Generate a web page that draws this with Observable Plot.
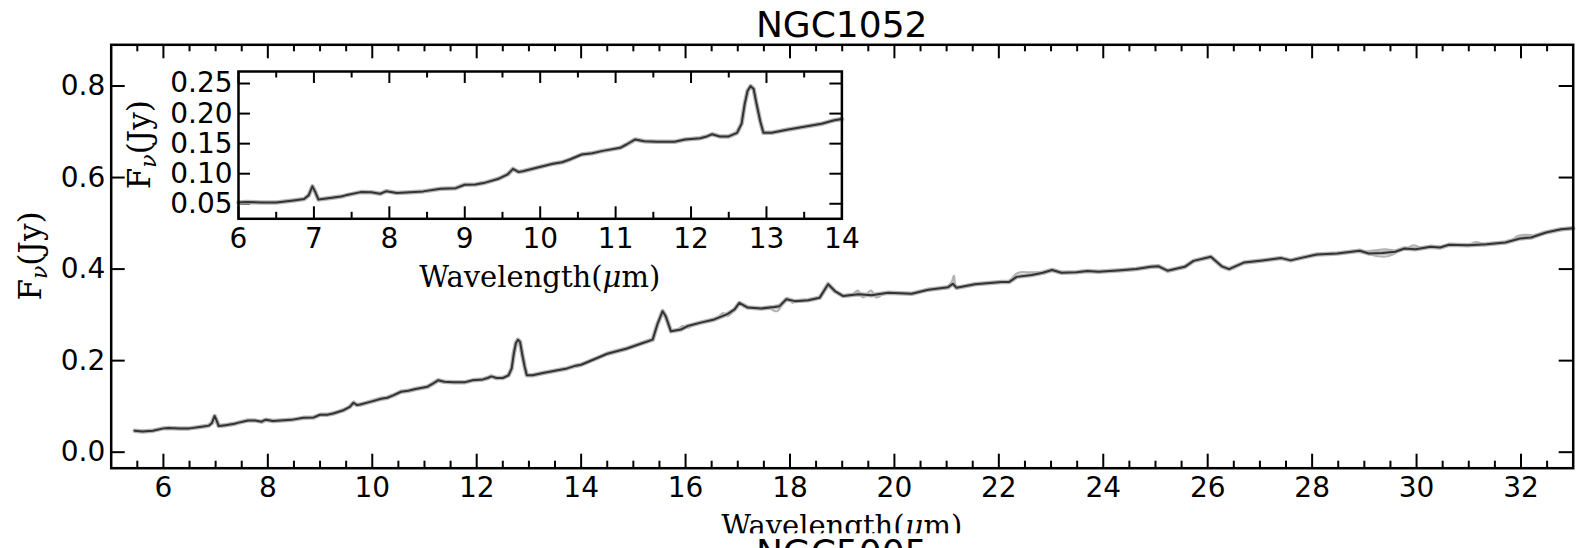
<!DOCTYPE html>
<html><head><meta charset="utf-8">
<script src="https://cdn.jsdelivr.net/npm/d3@7"></script>
<script src="https://cdn.jsdelivr.net/npm/@observablehq/plot@0.6"></script>
<style>
html,body{margin:0;padding:0;background:#fff;overflow:hidden;}
#wrap{position:relative;width:1585px;height:548px;overflow:hidden;background:#fff;}
#wrap svg{position:absolute;}
</style></head><body><div id="wrap"></div>
<script>
// ---- data ----
const wavelength = [5.45,5.6,5.8,6.0,6.1,6.3,6.5,6.73,6.87,6.93,6.98,7.02,7.06,7.19,7.36,7.42,7.62,7.76,7.88,7.96,8.1,8.45,8.68,8.88,9.0,9.14,9.25,9.45,9.57,9.64,9.71,9.77,9.94,10.17,10.29,10.4,10.55,10.69,10.83,11.06,11.15,11.26,11.38,11.55,11.78,11.92,12.12,12.21,12.28,12.38,12.5,12.61,12.67,12.71,12.75,12.79,12.83,12.87,12.92,12.96,13.07,13.27,13.5,13.73,13.9,14.0,14.24,14.5,14.88,15.14,15.37,15.46,15.56,15.62,15.72,15.91,16.04,16.29,16.55,16.81,16.94,17.03,17.19,17.45,17.7,17.8,17.93,18.09,18.35,18.57,18.67,18.73,18.86,19.02,19.31,19.56,19.88,20.33,20.65,21.03,21.12,21.19,21.54,22.05,22.2,22.34,22.63,22.84,23.02,23.2,23.49,23.7,23.91,24.34,24.63,24.91,25.06,25.23,25.56,25.73,26.06,26.27,26.41,26.7,27.05,27.41,27.59,27.77,28.09,28.48,28.91,29.09,29.34,29.59,29.77,29.98,30.27,30.45,30.62,30.98,31.34,31.7,31.98,32.19,32.48,32.77,33.0];
const flux = [0.047,0.045,0.047,0.052,0.053,0.052,0.052,0.0556,0.058,0.064,0.079,0.069,0.057,0.059,0.062,0.064,0.0694,0.069,0.0667,0.071,0.068,0.0706,0.075,0.076,0.0817,0.082,0.0844,0.0917,0.099,0.108,0.103,0.104,0.1094,0.1167,0.119,0.124,0.132,0.134,0.138,0.143,0.149,0.157,0.154,0.153,0.153,0.157,0.159,0.162,0.1656,0.162,0.162,0.168,0.183,0.215,0.238,0.2456,0.241,0.215,0.186,0.168,0.168,0.173,0.178,0.183,0.189,0.191,0.2025,0.215,0.2266,0.237,0.246,0.279,0.308,0.297,0.264,0.268,0.2755,0.283,0.29,0.302,0.312,0.326,0.316,0.314,0.317,0.319,0.334,0.330,0.332,0.3376,0.356,0.367,0.352,0.341,0.345,0.343,0.3485,0.346,0.355,0.3605,0.368,0.359,0.367,0.372,0.372,0.383,0.387,0.392,0.398,0.392,0.393,0.396,0.394,0.3975,0.4,0.405,0.406,0.3965,0.405,0.418,0.427,0.406,0.4,0.4145,0.419,0.424,0.419,0.424,0.432,0.434,0.44,0.434,0.435,0.438,0.445,0.4435,0.449,0.447,0.453,0.452,0.4545,0.458,0.467,0.469,0.48,0.487,0.489];
// individual (grey) spectra where they depart from the mean
const grayWavelength = [15.85,15.95,16.05,16.15, 16.6,16.72,16.8,16.9, 17.6,17.75,17.85,17.95,18.05, 19.2,19.3,19.4,19.55,19.65,19.8, 21.0,21.1,21.14,21.18,21.3, 22.2,22.35,22.6,22.8, 29.0,29.2,29.4,29.6, 29.1,29.25,29.45,29.6, 29.8,29.95,30.1, 31.0,31.15,31.3, 31.8,31.95,32.2];
const grayFlux = [0.266,0.276,0.272,0.279, 0.29,0.304,0.297,0.306, 0.316,0.308,0.322,0.337,0.326, 0.343,0.353,0.338,0.353,0.338,0.348, 0.36,0.372,0.386,0.362,0.362, 0.372,0.391,0.393,0.393, 0.438,0.441,0.443,0.44, 0.433,0.428,0.428,0.435, 0.443,0.452,0.444, 0.452,0.459,0.451, 0.46,0.473,0.474];
const graySeg = [1,1,1,1, 2,2,2,2, 3,3,3,3,3, 4,4,4,4,4,4, 5,5,5,5,5, 6,6,6,6, 7,7,7,7, 8,8,8,8, 9,9,9, 10,10,10, 11,11,11];

const mainXTicks = [6,8,10,12,14,16,18,20,22,24,26,28,30,32];
const mainYTicks = [0.0,0.2,0.4,0.6,0.8];
const insetXTicks = [6,7,8,9,10,11,12,13,14];
const insetYTicks = [0.05,0.10,0.15,0.20,0.25];
const mainXMinor = d3.range(5.5, 33, 0.5).filter(v => v % 2 !== 0);
const insetXMinor = d3.range(6.5, 14, 1);

const titleText = "NGC1052";
const nextTitleText = "NGC5005";

// ---- layout ----
const W = 1585, H = 548;
const mL = 110.7, mR = 12.3, mT = 44.3, mB = 80.3;
const fw = W - mL - mR, fh = H - mT - mB;

const spectrum = wavelength.map((w, i) => ({w, f: flux[i]}));
const gray = grayWavelength.map((w, i) => ({w, f: grayFlux[i], s: graySeg[i]}));

const lineColor = "#333333", haloColor = "#b4b4b4";

const main = Plot.plot({
  width: W, height: H,
  marginLeft: mL, marginRight: mR, marginTop: mT, marginBottom: mB,
  style: {fontFamily: "DejaVu Sans", fontSize: "28px", color: "black", background: "white", overflow: "visible"},
  x: {domain: [5, 33], ticks: mainXTicks, tickSize: 0, tickPadding: 9, tickFormat: d => String(d), label: null},
  y: {domain: [-0.035, 0.89], ticks: mainYTicks, tickSize: 0, tickPadding: 6, tickFormat: d3.format(".1f"), label: null},
  marks: [
    Plot.ruleX(mainXTicks, {x: d => d, insetTop: fh - 14, stroke: "black", strokeWidth: 2}),
    Plot.ruleX(mainXTicks, {x: d => d, insetBottom: fh - 14, stroke: "black", strokeWidth: 2}),
    Plot.ruleX(mainXMinor, {x: d => d, insetTop: fh - 7, stroke: "black", strokeWidth: 2}),
    Plot.ruleX(mainXMinor, {x: d => d, insetBottom: fh - 7, stroke: "black", strokeWidth: 2}),
    Plot.ruleY(mainYTicks, {y: d => d, insetRight: fw - 14, stroke: "black", strokeWidth: 2}),
    Plot.ruleY(mainYTicks, {y: d => d, insetLeft: fw - 14, stroke: "black", strokeWidth: 2}),
    Plot.line(gray, {x: "w", y: "f", z: "s", stroke: "#a0a0a0", strokeWidth: 2.2, strokeOpacity: 0.8, curve: "catmull-rom"}),
    Plot.line(spectrum, {x: "w", y: "f", stroke: haloColor, strokeWidth: 4.5}),
    Plot.line(spectrum, {x: "w", y: "f", stroke: lineColor, strokeWidth: 2}),
    Plot.frame({stroke: "black", strokeWidth: 2.5})
  ]
});

// inset
const iL = 110, iT = 10, iR = 30, iB = 80;
const ifw = 603.4, ifh = 147.3;
const iW = iL + ifw + iR, iH = iT + ifh + iB;
const iX = 238.3 - iL, iY = 71 - iT;
const insetData = spectrum.filter(d => d.w >= 6 && d.w <= 14);

const inset = Plot.plot({
  width: iW, height: iH,
  marginLeft: iL, marginRight: iR, marginTop: iT, marginBottom: iB,
  style: {fontFamily: "DejaVu Sans", fontSize: "28px", color: "black", background: "transparent", overflow: "visible"},
  x: {domain: [6, 14], ticks: insetXTicks, tickSize: 0, tickPadding: 9, tickFormat: d => String(d), label: null},
  y: {domain: [0.025, 0.27], ticks: insetYTicks, tickSize: 0, tickPadding: 6, tickFormat: d3.format(".2f"), label: null},
  marks: [
    Plot.frame({fill: "white"}),
    Plot.ruleX(insetXTicks, {x: d => d, insetTop: ifh - 12, stroke: "black", strokeWidth: 2}),
    Plot.ruleX(insetXTicks, {x: d => d, insetBottom: ifh - 12, stroke: "black", strokeWidth: 2}),
    Plot.ruleX(insetXMinor, {x: d => d, insetTop: ifh - 6.5, stroke: "black", strokeWidth: 2}),
    Plot.ruleX(insetXMinor, {x: d => d, insetBottom: ifh - 6.5, stroke: "black", strokeWidth: 2}),
    Plot.ruleY(insetYTicks, {y: d => d, insetRight: ifw - 12, stroke: "black", strokeWidth: 2}),
    Plot.ruleY(insetYTicks, {y: d => d, insetLeft: ifw - 12, stroke: "black", strokeWidth: 2}),
    Plot.line(insetData, {x: "w", y: "f", stroke: haloColor, strokeWidth: 4.5}),
    Plot.line(insetData, {x: "w", y: "f", stroke: lineColor, strokeWidth: 2}),
    Plot.frame({stroke: "black", strokeWidth: 2.5})
  ]
});

const wrap = document.getElementById("wrap");
main.style.left = "0px"; main.style.top = "0px";
inset.style.left = iX + "px"; inset.style.top = iY + "px";
wrap.appendChild(main);
wrap.appendChild(inset);

// ---- extra texts ----
const serif = "DejaVu Serif";
function fluxLabel(sel, x, y) {
  const t = sel.append("text")
    .attr("transform", `translate(${x},${y}) rotate(-90)`)
    .attr("text-anchor", "middle")
    .attr("font-family", serif).attr("font-size", 31).attr("fill", "black");
  t.append("tspan").text("F");
  t.append("tspan").attr("font-size", 22).attr("font-style", "italic").attr("dy", 6).text("ν");
  t.append("tspan").attr("dy", -6).text("(Jy)");
}
function waveLabel(sel, x, y) {
  const t = sel.append("text")
    .attr("x", x).attr("y", y)
    .attr("text-anchor", "middle")
    .attr("font-family", serif).attr("font-size", 29).attr("fill", "black");
  t.append("tspan").text("Wavelength(");
  t.append("tspan").attr("font-style", "italic").text("μ");
  t.append("tspan").text("m)");
}
const ms = d3.select(main);
ms.append("text").attr("x", 841.7).attr("y", 36.7).attr("text-anchor", "middle")
  .attr("font-family", "DejaVu Sans").attr("font-size", 36).attr("fill", "black").text(titleText);
fluxLabel(ms, 41, 256);
waveLabel(ms, 841.7, 536);
ms.append("rect").attr("x", 0).attr("y", 533.3).attr("width", W).attr("height", 40).attr("fill", "white");
ms.append("text").attr("x", 841.7).attr("y", 564.5).attr("text-anchor", "middle")
  .attr("font-family", "DejaVu Sans").attr("font-size", 36).attr("fill", "black").text(nextTitleText);

const is = d3.select(inset);
fluxLabel(is, 150 - iX, 144.7 - iY);
waveLabel(is, 540 - iX, 287 - iY);
</script>
</body></html>
